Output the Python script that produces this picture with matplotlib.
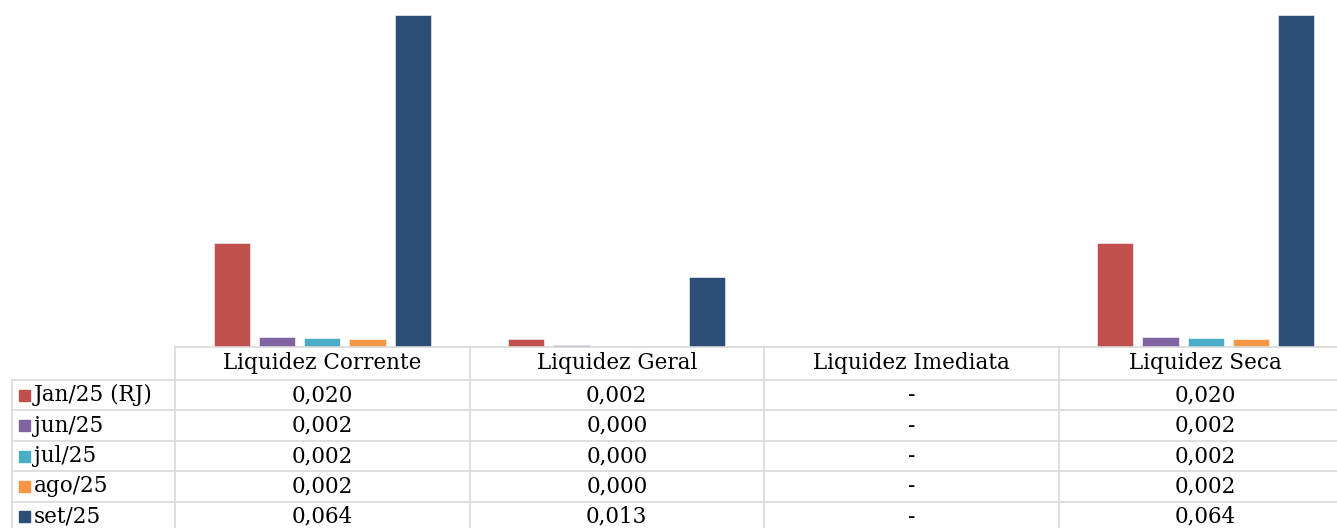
import matplotlib
matplotlib.use("Agg")
import matplotlib.pyplot as plt
from matplotlib.lines import Line2D
from matplotlib.patches import Rectangle
import numpy as np

categories = ["Liquidez Corrente", "Liquidez Geral", "Liquidez Imediata", "Liquidez Seca"]
series_names = ["Jan/25 (RJ)", "jun/25", "jul/25", "ago/25", "set/25"]
values = {
    "Jan/25 (RJ)": [0.0201, 0.0016, 0.0, 0.0201],
    "jun/25":      [0.0019, 0.0003, 0.0, 0.0019],
    "jul/25":      [0.0017, 0.0002, 0.0, 0.0017],
    "ago/25":      [0.0016, 0.0002, 0.0, 0.0016],
    "set/25":      [0.0640, 0.0134, 0.0, 0.0640],
}
colors = ["#C0504D", "#8064A2", "#4BACC6", "#F79646", "#2C4D75"]

W, H = 1337, 528
fig = plt.figure(figsize=(W / 100, H / 100), dpi=100)
FONT = "DejaVu Serif"
FS = 15.5
GRID = "#D9D9D9"

# pixel geometry
x_left, x_right = 175, 1353
y_base, y_top = 347, 15
ax = fig.add_axes([x_left / W, (H - y_base) / H, (x_right - x_left) / W, (y_base - y_top) / H])
ncat = len(categories)
x = np.arange(ncat)
bw = 0.123
pitch = 0.1537
for i, (name, c) in enumerate(zip(series_names, colors)):
    off = (i - 2) * pitch
    ax.bar(x + off, values[name], width=bw, color=c, edgecolor="white", linewidth=0.4, zorder=2)
ax.set_xlim(-0.5, ncat - 0.5)
ax.set_ylim(0, max(values["set/25"]))
ax.axis("off")

def px2f(px, py):
    return px / W, (H - py) / H

def hline(x0, x1, y, c=GRID, lw=1.2):
    fig.add_artist(Line2D([x0 / W, x1 / W], [(H - y) / H] * 2, color=c, lw=lw, transform=fig.transFigure))

def vline(xx, y0, y1, c=GRID, lw=1.2):
    fig.add_artist(Line2D([xx / W] * 2, [(H - y0) / H, (H - y1) / H], color=c, lw=lw, transform=fig.transFigure))

col_w = (x_right - x_left) / ncat
col_edges = [x_left + k * col_w for k in range(ncat + 1)]
row_lines = [347, 380, 410.4, 440.8, 471.2, 501.6, 532]

# horizontal lines
hline(x_left, W + 20, 347)
for y in row_lines[1:-1]:
    hline(12, W + 20, y)
# vertical lines
for xe in col_edges:
    vline(xe, 347, H + 5)
vline(12, 380, H + 5)

# header
for k, cat in enumerate(categories):
    cx = x_left + (k + 0.5) * col_w
    fx, fy = px2f(cx, 363.5)
    fig.text(fx, fy, cat, ha="center", va="center", fontsize=FS, family=FONT)

def fmt(v):
    if v == 0:
        return "-"
    return f"{v:.3f}".replace(".", ",")

for r, (name, c) in enumerate(zip(series_names, colors)):
    yc = (row_lines[r + 1] + row_lines[r + 2]) / 2
    if r == len(series_names) - 1:
        yc = row_lines[r + 1] + 15.2
    # legend key
    fig.add_artist(Rectangle(px2f(19, yc + 5.5), 11 / W, 11 / H, color=c, transform=fig.transFigure))
    fx, fy = px2f(34, yc)
    fig.text(fx, fy, name, ha="left", va="center", fontsize=FS, family=FONT)
    for k in range(ncat):
        cx = x_left + (k + 0.5) * col_w
        fx, fy = px2f(cx, yc)
        fig.text(fx, fy, fmt(values[name][k]), ha="center", va="center", fontsize=FS, family=FONT)

fig.savefig("out.png", dpi=100, facecolor="white")
